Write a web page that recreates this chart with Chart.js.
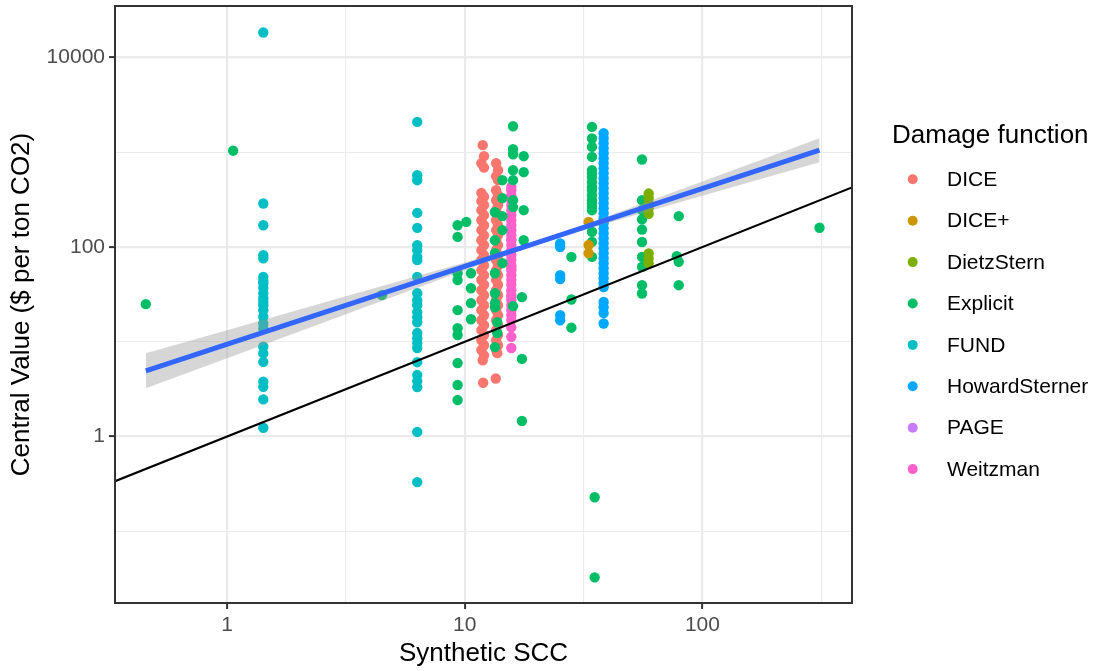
<!DOCTYPE html>
<html>
<head>
<meta charset="utf-8">
<title>Synthetic SCC vs central value</title>
<script src="https://cdn.jsdelivr.net/npm/chart.js@4.4.1/dist/chart.umd.min.js"></script>
<style>
  html, body { margin: 0; padding: 0; background: #fff; }
  canvas { display: block; }
</style>
</head>
<body>
<canvas id="sccChart" width="1095" height="671"></canvas>
<script>
// damage functions, in legend order
const groups = ['DICE', 'DICE+', 'DietzStern', 'Explicit', 'FUND', 'HowardSterner', 'PAGE', 'Weitzman'];
const groupColors = ['#F8766D', '#CD9600', '#7CAE00', '#00BE67', '#00BFC4', '#00A9FF', '#C77CFF', '#FF61CC'];

// [synthetic SCC, central value] for each estimate
const dice = [
    [11.9, 1190], [12.05, 910], [11.75, 767], [12.05, 690],
    [11.75, 372], [12.05, 340], [11.75, 305], [12.05, 277], [11.75, 245], [12.05, 217], [11.75, 192], [12.05, 170],
    [11.75, 151], [12.05, 133], [11.75, 118], [12.05, 105], [11.75, 93], [12.05, 82], [11.75, 73], [12.05, 64],
    [11.75, 57], [12.05, 50.5], [11.75, 45], [12.05, 40], [11.75, 35], [12.05, 31], [11.75, 27.5], [12.05, 24.4],
    [11.75, 21.6], [12.05, 19.1], [11.75, 16.9], [12.05, 15], [11.75, 13.3], [12.05, 11.8], [11.75, 10.4], [12.05, 9.2],
    [11.75, 8.2], [12.05, 7.2], [11.9, 6.4], [11.95, 3.7],
    [13.55, 767], [13.8, 647], [13.55, 560], [13.8, 508], [13.55, 398], [13.8, 352], [13.55, 312], [13.8, 277],
    [13.55, 245], [13.8, 217], [13.55, 192], [13.8, 170], [13.55, 151], [13.8, 133], [13.55, 118], [13.8, 105],
    [13.55, 93], [13.8, 82], [13.55, 73], [13.8, 64], [13.55, 57], [13.8, 50.5], [13.55, 45], [13.8, 40],
    [13.55, 35], [13.8, 31], [13.55, 27.5], [13.8, 24.4], [13.55, 21.6], [13.8, 19.1], [13.55, 16.9], [13.8, 15],
    [13.55, 13.3], [13.8, 11.8], [13.55, 10.4], [13.8, 9.2], [13.55, 8.2], [13.7, 7.6], [13.5, 4.1]
];
const dicePlus = [[33.2, 184.5], [33.2, 105], [33.2, 86]];
const dietzStern = [[59.4, 367], [59.4, 330], [59.4, 290], [59.4, 255], [59.4, 225], [59.4, 85.6], [59.4, 76], [59.4, 67.3]];
const explicit = [
    [0.455, 25], [1.06, 1040], [4.48, 31.1],
    [9.33, 170], [9.33, 128], [9.33, 53], [9.33, 44.8], [9.33, 21.6], [9.33, 13.9], [9.33, 11.8], [9.33, 5.97], [9.33, 3.5], [9.33, 2.43],
    [10.15, 184.5], [10.62, 53], [10.62, 36.8], [10.62, 25.6], [10.62, 17.3],
    [15.96, 1885], [15.96, 1079], [15.96, 955], [17.7, 910], [15.96, 647], [17.7, 617], [14.4, 508], [15.96, 508],
    [14.4, 328], [15.96, 312], [15.96, 264], [17.7, 245], [13.4, 233], [14.4, 212], [14.4, 151], [17.7, 118],
    [13.4, 118], [13.4, 86], [14.4, 67.6], [13.4, 53], [13.4, 32.6], [17.4, 29.6], [13.4, 25.6], [15.96, 23.8],
    [13.4, 23.2], [13.7, 16.1], [13.7, 12.4], [13.4, 8.8], [17.4, 6.6], [17.4, 1.46],
    [28.1, 78.8], [28.1, 28], [28.1, 14.1],
    [34.3, 1853], [34.3, 1400], [34.3, 1140], [34.3, 894], [34.3, 647], [34.3, 600], [34.3, 550], [34.3, 484],
    [34.3, 428], [34.3, 400], [34.3, 352], [34.3, 312], [34.3, 290], [34.3, 266], [34.3, 245], [34.3, 145],
    [34.3, 113.5], [34.3, 78.8], [35.2, 0.229], [35.2, 0.0327],
    [55.7, 839], [55.7, 312], [55.7, 245], [55.7, 196], [55.7, 153], [55.7, 113], [55.7, 78.8], [55.7, 61.8],
    [55.7, 39.6], [55.7, 32.4],
    [79.5, 212], [78, 80], [79.5, 69.8], [79.5, 39.6],
    [311, 160]
];
const fund = [
    [1.42, 18360], [1.42, 288], [1.42, 170], [1.42, 82], [1.42, 76], [1.42, 48.4], [1.42, 44], [1.42, 41.6],
    [1.42, 37], [1.42, 32.5], [1.42, 28.8], [1.42, 26.5], [1.42, 24.4], [1.42, 21.6], [1.42, 18.4], [1.42, 15.6],
    [1.42, 13.8], [1.42, 8.9], [1.42, 7.55], [1.42, 6.15], [1.42, 3.79], [1.42, 3.35], [1.42, 2.47], [1.42, 1.24],
    [6.31, 2094], [6.31, 573], [6.31, 508], [6.31, 229.5], [6.31, 159.5], [6.31, 104.7], [6.31, 92.8], [6.31, 78.8],
    [6.31, 72.8], [6.31, 48.5], [6.31, 32.6], [6.31, 27.5], [6.31, 24.4], [6.31, 20.6], [6.31, 18.2], [6.31, 16.1],
    [6.31, 12.4], [6.31, 10.9], [6.31, 9.7], [6.31, 8.6], [6.31, 6.1], [6.31, 4.46], [6.31, 3.85], [6.31, 3.33],
    [6.31, 1.12], [6.31, 0.331]
];
const howardSterner = [
    [38.4, 1591], [38.4, 1408], [38.4, 1247], [38.4, 1105], [38.4, 979], [38.4, 867], [38.4, 767], [38.4, 680],
    [38.4, 602], [38.4, 533], [38.4, 472], [38.4, 418], [38.4, 370], [38.4, 328], [38.4, 290], [38.4, 257],
    [38.4, 228], [38.4, 202], [38.4, 179], [38.4, 158], [38.4, 140], [38.4, 124], [38.4, 110], [38.4, 97.4],
    [38.4, 86.2], [38.4, 76.4], [38.4, 67.6], [38.4, 59.9], [38.4, 53], [38.4, 47], [38.4, 41.6], [38.4, 37.8],
    [38.4, 26.4], [38.4, 23.2], [38.4, 20.1], [38.4, 15.6],
    [25.2, 109], [25.2, 100], [25.2, 50.5], [25.2, 45.9], [25.2, 19.1], [25.2, 16.9]
];
const page = [[15.7, 120], [15.7, 60], [15.7, 30]];
const weitzman = [
    [15.7, 430], [15.7, 398], [15.7, 352], [15.7, 312], [15.7, 277], [15.7, 245], [15.7, 217], [15.7, 192],
    [15.7, 170], [15.7, 151], [15.7, 133], [15.7, 118], [15.7, 105], [15.7, 93], [15.7, 82], [15.7, 73],
    [15.7, 64], [15.7, 57], [15.7, 50.5], [15.7, 45], [15.7, 40], [15.7, 35], [15.7, 31], [15.7, 27.5],
    [15.7, 24.4], [15.7, 21.6], [15.7, 19.1], [15.7, 17], [15.7, 14.2], [15.7, 11.3], [15.7, 8.6]
];

// log-log linear fit and its 95% band
const fitX = [0.455, 311];
const fitY = [4.94, 1052];
const bandX = [0.455, 1, 3.16, 10, 22, 31.6, 100, 311];
const bandLow = [3.24, 6.72, 19.6, 56.8, 113.8, 151.7, 348, 785];
const bandHigh = [7.57, 13.26, 30.2, 68.9, 124.7, 171, 492, 1409];

// axis limits and breaks
const xMin = 0.3375, xMax = 426;
const yMin = 0.01754, yMax = 34990;
const xMajor = [1, 10, 100];
const xMinor = [3.162, 31.62, 316.2];
const yMajor = [1, 100, 10000];
const yMinor = [0.1, 10, 1000];

const fontFamily = '"Liberation Sans", Arial, Helvetica, sans-serif';
const toPoints = pairs => pairs.map(([x, y]) => ({ x, y }));
const zip = (xs, ys) => xs.map((x, i) => ({ x, y: ys[i] }));

const seriesData = [dice, dicePlus, dietzStern, explicit, fund, howardSterner, page, weitzman];
// lower number is drawn on top
const drawOrder = { 'DICE': 10, 'DICE+': 4, 'DietzStern': 3, 'Explicit': 6, 'FUND': 7, 'HowardSterner': 5, 'PAGE': 11, 'Weitzman': 8 };

const pointSets = groups.map((g, i) => ({
    label: g,
    data: toPoints(seriesData[i]),
    backgroundColor: groupColors[i],
    borderWidth: 0,
    pointRadius: 5.2,
    order: drawOrder[g],
    inLegend: true
}));

const lineSets = [
    {
        label: 'band high',
        data: zip(bandX, bandHigh),
        showLine: true,
        borderWidth: 0,
        pointRadius: 0,
        fill: '+1',
        backgroundColor: 'rgba(153,153,153,0.4)',
        order: 2
    },
    {
        label: 'band low',
        data: zip(bandX, bandLow),
        showLine: true,
        borderWidth: 0,
        pointRadius: 0,
        fill: false,
        order: 2
    },
    {
        label: 'fit',
        data: zip(fitX, fitY),
        showLine: true,
        borderColor: '#3366FF',
        borderWidth: 5,
        pointRadius: 0,
        fill: false,
        order: 1
    },
    {
        label: 'y = x',
        data: [{ x: xMin, y: xMin }, { x: xMax, y: xMax }],
        showLine: true,
        borderColor: '#000000',
        borderWidth: 2.2,
        pointRadius: 0,
        fill: false,
        clip: 0,
        order: 0
    }
];

const isIn = (list, v) => list.some(m => Math.abs(m - v) / m < 1e-6);

function logAxis(min, max, major, minor, titleText, isX) {
    return {
        type: 'logarithmic',
        position: isX ? 'bottom' : 'left',
        bounds: 'data',
        min: min,
        max: max,
        afterBuildTicks: s => {
            // keep the exact limits, chart.js rounds them otherwise
            s.min = min;
            s.max = max;
            s.ticks = major.concat(minor).sort((a, b) => a - b).map(v => ({ value: v }));
        },
        afterFit: s => {
            if (isX) {
                s.height = 68;
                s.paddingLeft = 0;
                s.paddingRight = 0;
            } else {
                s.width = 115;
                s.paddingTop = 0;
                s.paddingBottom = 0;
            }
        },
        ticks: {
            autoSkip: false,
            maxRotation: 0,
            padding: 4,
            color: '#4D4D4D',
            font: { family: fontFamily, size: 21 },
            callback: v => isIn(major, v) ? String(v) : ''
        },
        grid: {
            color: '#EBEBEB',
            lineWidth: ctx => (ctx.tick && isIn(major, ctx.tick.value)) ? 2.2 : 1.1,
            tickColor: ctx => (ctx.tick && isIn(major, ctx.tick.value)) ? '#333333' : 'rgba(0,0,0,0)',
            tickLength: 6,
            tickWidth: 2
        },
        border: { display: false },
        title: {
            display: true,
            text: titleText,
            color: '#000000',
            font: { family: fontFamily, size: 26 },
            padding: isX ? { top: 0, bottom: 2 } : { top: 6, bottom: 0 }
        }
    };
}

// panel border and the damage function key
const frameAndKey = {
    id: 'frameAndKey',
    afterDraw(chart) {
        const c = chart.ctx;
        const a = chart.chartArea;
        c.save();
        c.strokeStyle = '#333333';
        c.lineWidth = 2;
        c.strokeRect(a.left, a.top, a.right - a.left, a.bottom - a.top);

        c.fillStyle = '#000000';
        c.textAlign = 'left';
        c.textBaseline = 'alphabetic';
        c.font = '26px ' + fontFamily;
        c.fillText('Damage function', 892, 143);

        const keyed = chart.data.datasets.filter(d => d.inLegend);
        c.font = '21px ' + fontFamily;
        c.textBaseline = 'middle';
        keyed.forEach((d, i) => {
            const y = 179.3 + i * 41.4;
            c.fillStyle = d.backgroundColor;
            c.beginPath();
            c.arc(912.7, y, 5, 0, Math.PI * 2);
            c.fill();
            c.fillStyle = '#000000';
            c.fillText(d.label, 947, y + 1);
        });
        c.restore();
    }
};

const whiteBackground = {
    id: 'whiteBackground',
    beforeDraw(chart) {
        const c = chart.ctx;
        c.save();
        c.fillStyle = '#ffffff';
        c.fillRect(0, 0, chart.width, chart.height);
        c.restore();
    }
};

new Chart(document.getElementById('sccChart'), {
    type: 'scatter',
    data: { datasets: pointSets.concat(lineSets) },
    options: {
        responsive: false,
        animation: false,
        devicePixelRatio: 1,
        events: [],
        layout: { padding: { top: 6, right: 243, bottom: 0, left: 0 } },
        plugins: {
            legend: { display: false },
            tooltip: { enabled: false }
        },
        scales: {
            x: logAxis(xMin, xMax, xMajor, xMinor, 'Synthetic SCC', true),
            y: logAxis(yMin, yMax, yMajor, yMinor, 'Central Value ($ per ton CO2)', false)
        }
    },
    plugins: [whiteBackground, frameAndKey]
});
</script>
</body>
</html>
